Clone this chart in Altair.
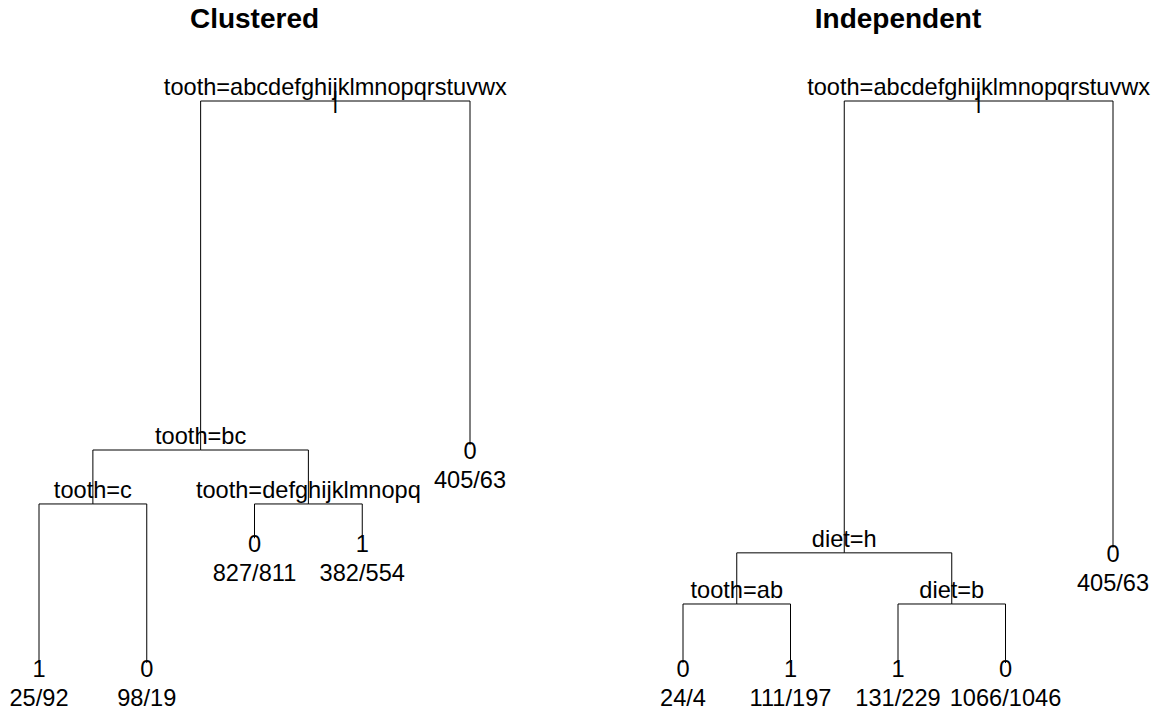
import altair as alt
import pandas as pd

FONT = "Liberation Sans"
FS = 23.6          # node label size
TITLE_FS = 28      # panel title size

# Trees use rpart node numbering: the children of node n are 2n and 2n+1.
# depth is the relative drop from the root (0) to the deepest leaf (1).

# Clustered fit
clu_node = [1, 2, 3, 4, 5, 8, 9, 10, 11]
clu_split = ["tooth=abcdefghijklmnopqrstuvwx", "tooth=bc", "", "tooth=c",
             "tooth=defghijklmnopq", "", "", "", ""]
clu_class = ["", "", "0", "", "", "1", "0", "0", "1"]
clu_n0 = [None, None, 405, None, None, 25, 98, 827, 382]
clu_n1 = [None, None, 63, None, None, 92, 19, 811, 554]
clu_depth = [0.0, 0.621, 0.612, 0.717, 0.717, 1.0, 1.0, 0.778, 0.778]

# Independent fit
ind_node = [1, 2, 3, 4, 5, 8, 9, 10, 11]
ind_split = ["tooth=abcdefghijklmnopqrstuvwx", "diet=h", "", "tooth=ab",
             "diet=b", "", "", "", ""]
ind_class = ["", "", "0", "", "", "0", "1", "1", "0"]
ind_n0 = [None, None, 405, None, None, 24, 111, 131, 1066]
ind_n1 = [None, None, 63, None, None, 4, 197, 229, 1046]
ind_depth = [0.0, 0.804, 0.795, 0.895, 0.895, 1.0, 1.0, 1.0, 1.0]

# Page geometry (pixels)
HEIGHT = 711
ROOT_PX, LEAF_PX = 101, 663
Y_LO = -ROOT_PX / (LEAF_PX - ROOT_PX)
Y_HI = 1 + (HEIGHT - LEAF_PX) / (LEAF_PX - ROOT_PX)


def tree_frames(node, split, cls, n0, n1, depth):
    """Leaves are spaced one unit apart in order; a split sits midway over its children."""
    ids = set(node)
    idx = {k: i for i, k in enumerate(node)}
    xpos = {}
    counter = [0]

    def place(k):
        kids = [c for c in (2 * k, 2 * k + 1) if c in ids]
        if not kids:
            counter[0] += 1
            xpos[k] = float(counter[0])
        else:
            for c in kids:
                place(c)
            xpos[k] = sum(xpos[c] for c in kids) / len(kids)

    place(1)
    rows = []
    for i, k in enumerate(node):
        rows.append(dict(
            node=k, x=xpos[k], y=depth[i], split=split[i], cls=cls[i],
            counts=f"{n0[i]}/{n1[i]}" if n0[i] is not None else "",
            root="|" if k == 1 else "",
        ))
    segs = []
    for i, k in enumerate(node):
        if k == 1:
            continue
        p = k // 2
        xc, yc = xpos[k], depth[i]
        xp, yp = xpos[p], depth[idx[p]]
        segs.append(dict(x=xc, x2=xc, y=yc, y2=yp))   # drop to the child
        segs.append(dict(x=xc, x2=xp, y=yp, y2=yp))   # bar under the parent
    return pd.DataFrame(rows), pd.DataFrame(segs)


def panel(title, frames, first_leaf_px, px_per_leaf, width):
    nodes, segs = frames
    lo = 1 - first_leaf_px / px_per_leaf
    hi = 1 + (width - first_leaf_px) / px_per_leaf
    xs = alt.Scale(domain=[lo, hi], nice=False, zero=False)
    ys = alt.Scale(domain=[Y_LO, Y_HI], reverse=True, nice=False, zero=False)
    X = alt.X("x:Q", scale=xs, axis=None)
    Y = alt.Y("y:Q", scale=ys, axis=None)

    branches = alt.Chart(segs).mark_rule(color="black", strokeWidth=1).encode(
        x=X, x2="x2:Q", y=Y, y2="y2:Q")

    base = alt.Chart(nodes)
    txt = dict(font=FONT, fontSize=FS, color="black", align="center")
    splits = base.transform_filter("datum.split != ''").mark_text(
        baseline="alphabetic", dy=-6, **txt).encode(x=X, y=Y, text="split:N")
    tick = base.transform_filter("datum.root != ''").mark_text(
        baseline="middle", **txt).encode(x=X, y=Y, text="root:N")
    classes = base.transform_filter("datum.cls != ''").mark_text(
        baseline="alphabetic", dy=14, **txt).encode(x=X, y=Y, text="cls:N")
    counts = base.transform_filter("datum.counts != ''").mark_text(
        baseline="alphabetic", dy=43, **txt).encode(x=X, y=Y, text="counts:N")

    leaves = nodes[nodes["cls"] != ""]
    title_df = pd.DataFrame({"x": [(leaves["x"].min() + leaves["x"].max()) / 2],
                             "t": [title]})
    heading = alt.Chart(title_df).mark_text(
        font=FONT, fontSize=TITLE_FS, fontWeight="bold", color="black",
        align="center", baseline="alphabetic").encode(
        x=X, y=alt.value(28), text="t:N")

    return alt.layer(branches, splits, tick, classes, counts, heading).properties(
        width=width, height=HEIGHT)


left = panel("Clustered",
             tree_frames(clu_node, clu_split, clu_class, clu_n0, clu_n1, clu_depth),
             first_leaf_px=39, px_per_leaf=107.75, width=580)
right = panel("Independent",
              tree_frames(ind_node, ind_split, ind_class, ind_n0, ind_n1, ind_depth),
              first_leaf_px=103, px_per_leaf=107.5, width=579)

chart = alt.hconcat(left, right, spacing=0, bounds="flush").resolve_scale(
    x="independent", y="independent"
).properties(
    padding=0,
    background="white",
).configure_view(stroke=None)

chart.save("out.html", embed_options={"renderer": "svg", "actions": False})
